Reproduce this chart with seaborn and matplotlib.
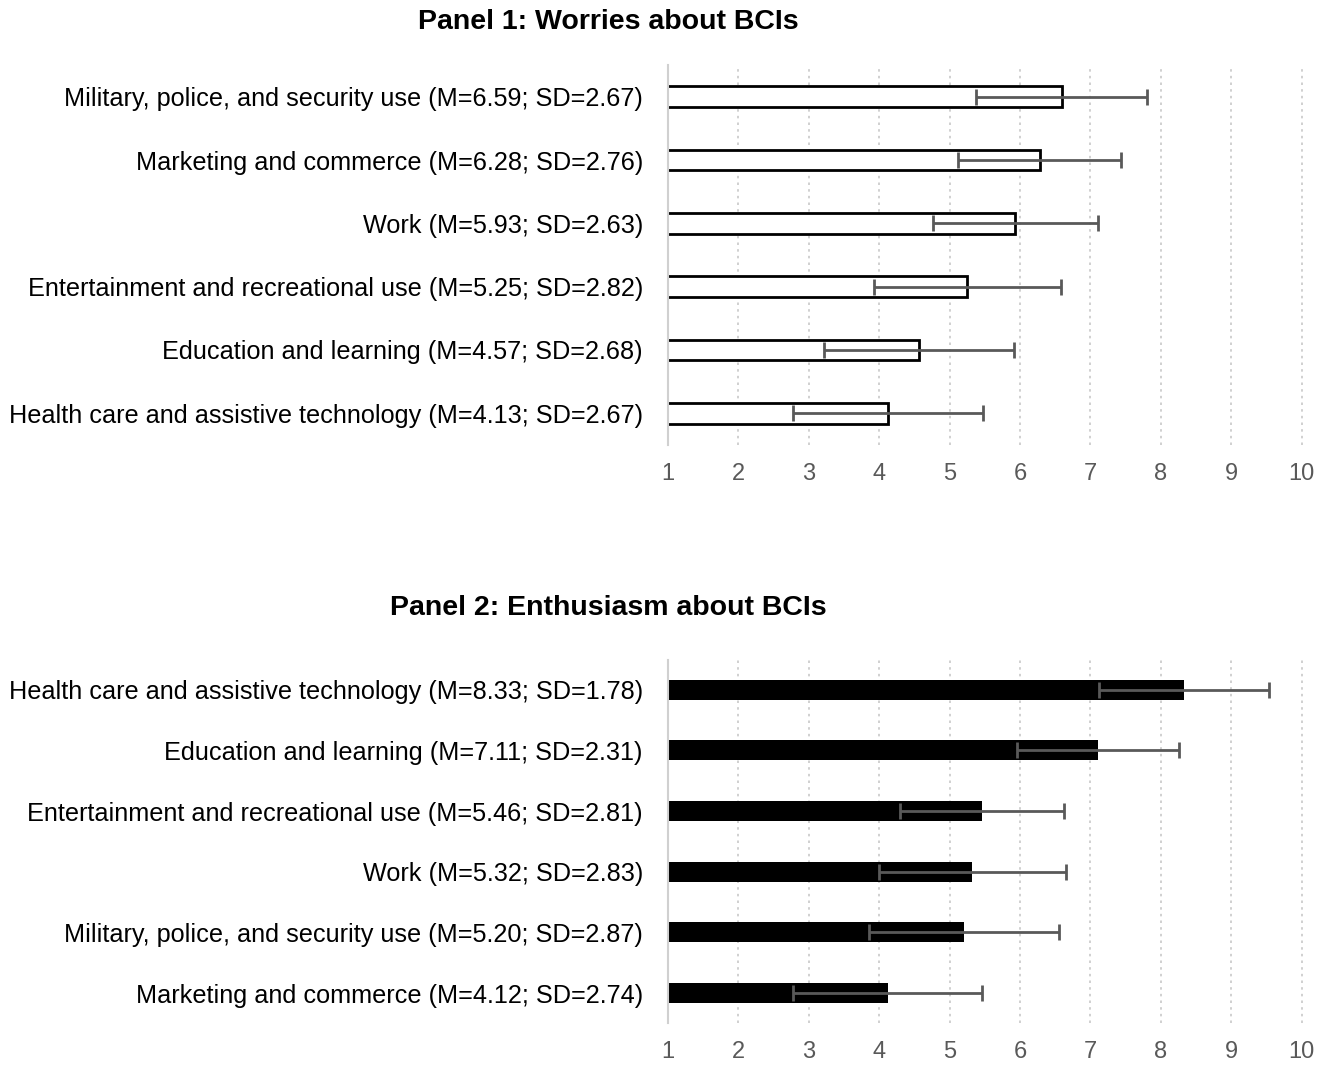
import matplotlib
matplotlib.use("Agg")
import matplotlib.pyplot as plt
import seaborn as sns
import pandas as pd

sns.set_theme(style="white")
plt.rcParams['font.family'] = ['Liberation Sans', 'DejaVu Sans']

# Panel 1: worries
worry_cats = ["Military, police, and security use", "Marketing and commerce", "Work",
              "Entertainment and recreational use", "Education and learning",
              "Health care and assistive technology"]
worry_means = [6.59, 6.28, 5.93, 5.25, 4.57, 4.13]
worry_sds = [2.67, 2.76, 2.63, 2.82, 2.68, 2.67]
worry_err = [1.21, 1.16, 1.17, 1.33, 1.35, 1.35]

# Panel 2: enthusiasm
enth_cats = ["Health care and assistive technology", "Education and learning",
             "Entertainment and recreational use", "Work",
             "Military, police, and security use", "Marketing and commerce"]
enth_means = [8.33, 7.11, 5.46, 5.32, 5.20, 4.12]
enth_sds = [1.78, 2.31, 2.81, 2.83, 2.87, 2.74]
enth_err = [1.21, 1.15, 1.16, 1.33, 1.35, 1.34]

xticks = [1, 2, 3, 4, 5, 6, 7, 8, 9, 10]

fig = plt.figure(figsize=(13.36, 10.66), dpi=100)
ax1 = fig.add_axes([0.5, 0.5826, 0.4775, 0.3564])
ax2 = fig.add_axes([0.5, 0.040, 0.4775, 0.3413])

def panel(ax, cats, means, sds, err, filled):
    labels = [f"{c} (M={m:.2f}; SD={s:.2f})" for c, m, s in zip(cats, means, sds)]
    df = pd.DataFrame({"label": labels, "mean": means, "err": err})
    sns.barplot(data=df, x="mean", y="label", ax=ax, orient="h", width=0.33,
                color="black" if filled else "white",
                edgecolor="black", linewidth=0 if filled else 2.0, errorbar=None)
    ax.errorbar(df["mean"], range(len(df)), xerr=df["err"], fmt="none",
                ecolor="#595959", elinewidth=2, capsize=5.5, capthick=2, zorder=5)
    ax.set_xlim(1, 10.06)
    ax.set_ylim(5.5, -0.5)
    ax.set_xticks(xticks)
    ax.set_xlabel("")
    ax.set_ylabel("")
    ax.grid(axis="x", color="#c8c8c8", linestyle=(0, (1.5, 2.5)), linewidth=1.2)
    ax.set_axisbelow(True)
    for s in ["top", "right", "bottom"]:
        ax.spines[s].set_visible(False)
    ax.spines["left"].set_color("#d0d0d0")
    ax.spines["left"].set_linewidth(1.5)
    ax.tick_params(axis="x", length=0, labelsize=17, labelcolor="#595959", pad=13)
    ax.tick_params(axis="y", length=0, labelsize=18.2, labelcolor="black", pad=18)

panel(ax1, worry_cats, worry_means, worry_sds, worry_err, False)
panel(ax2, enth_cats, enth_means, enth_sds, enth_err, True)

fig.text(0.455, 1 - 22 / 1066, "Panel 1: Worries about BCIs", ha="center", va="center",
         fontsize=20.5, fontweight="bold", color="black")
fig.text(0.455, 1 - 608 / 1066, "Panel 2: Enthusiasm about BCIs", ha="center", va="center",
         fontsize=20.5, fontweight="bold", color="black")

fig.savefig("out.png", dpi=100)
